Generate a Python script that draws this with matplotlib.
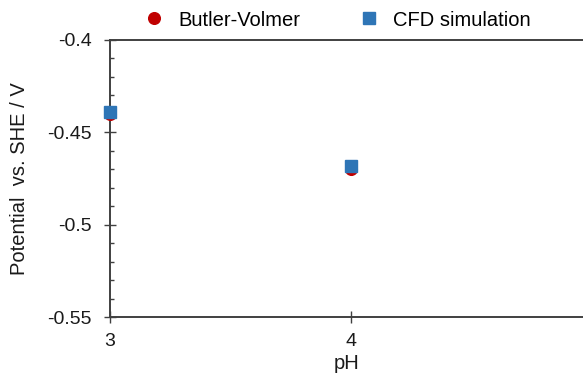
import matplotlib.pyplot as plt
from matplotlib.ticker import MultipleLocator

plt.rcParams['font.family'] = ['Liberation Sans', 'DejaVu Sans']

# pH values and electrode potentials (V vs. SHE)
ph = [3, 4]
butler_volmer = [-0.4402, -0.4700]
cfd_simulation = [-0.4388, -0.4682]

W, H = 583, 373
fig = plt.figure(figsize=(W / 100, H / 100), dpi=100)
left, right, bottom, top = 110, 583, 317.3, 40
ax = fig.add_axes([left / W, 1 - bottom / H, (right - left) / W, (bottom - top) / H])

ax.plot(ph, butler_volmer, 'o', color='#C00000', markersize=8.4,
        label='Butler-Volmer', clip_on=False, zorder=3)
ax.plot(ph, cfd_simulation, 's', color='#2E75B6', markersize=8.4,
        label='CFD simulation', clip_on=False, zorder=4)

ax.set_xlim(3, 4.965)
ax.set_ylim(-0.55, -0.4)
ax.set_xticks([3, 4])
ax.set_yticks([-0.55, -0.5, -0.45, -0.4])
ax.set_yticklabels(['-0.55', '-0.5', '-0.45', '-0.4'])
ax.yaxis.set_minor_locator(MultipleLocator(0.01))

edge = '#404040'
for side in ['left', 'bottom', 'top']:
    ax.spines[side].set_color(edge)
    ax.spines[side].set_linewidth(1.4)
ax.spines['right'].set_visible(False)

ax.tick_params(axis='both', which='major', direction='inout', length=8,
               width=1.0, color=edge, labelsize=14, labelcolor='#1a1a1a')
ax.tick_params(axis='y', which='major', pad=9)
ax.tick_params(axis='x', which='major', pad=7.5)
ax.tick_params(axis='y', which='minor', direction='in', length=3,
               width=1.0, color=edge)

ax.set_xlabel('pH', fontsize=14.5, labelpad=3, color='#1a1a1a')
ax.set_ylabel('Potential  vs. SHE / V', fontsize=14.5, labelpad=13,
              color='#1a1a1a')

fig.legend(*ax.get_legend_handles_labels(), loc='center left',
           bbox_to_anchor=(144.3 / W, 1 - 20 / H), ncol=2, frameon=False,
           fontsize=14.5, handlelength=1.0, handletextpad=0.7,
           columnspacing=2.9, borderpad=0, borderaxespad=0)

fig.savefig('out.png', dpi=100)
